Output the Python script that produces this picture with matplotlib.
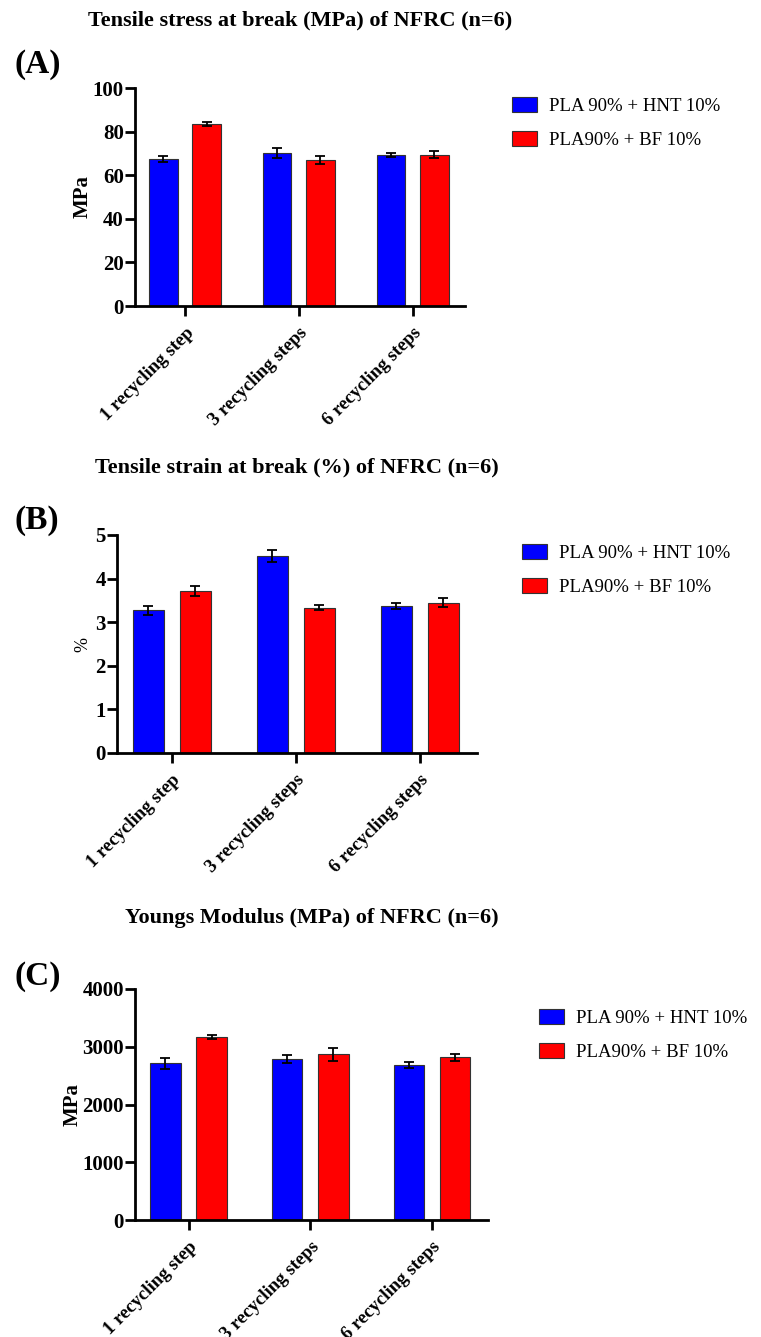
import matplotlib
matplotlib.use('Agg')
import matplotlib.pyplot as plt
import numpy as np

plt.rcParams.update({
    'font.family': ['Liberation Serif', 'DejaVu Serif'],
    'axes.spines.top': False,
    'axes.spines.right': False,
    'axes.linewidth': 2.0,
})

# ── Data ──────────────────────────────────────────────────────────────
groups = ['1 recycling step', '3 recycling steps', '6 recycling steps']
series = ['PLA 90% + HNT 10%', 'PLA90% + BF 10%']
colors = ['#0000FF', '#FF0000']

stress_hnt = [67.4, 70.1, 69.4]
stress_hnt_err = [1.2, 2.4, 1.0]
stress_bf = [83.6, 66.8, 69.4]
stress_bf_err = [1.0, 1.8, 1.5]

strain_hnt = [3.27, 4.52, 3.38]
strain_hnt_err = [0.11, 0.13, 0.07]
strain_bf = [3.71, 3.33, 3.45]
strain_bf_err = [0.12, 0.06, 0.10]

modulus_hnt = [2715, 2785, 2680]
modulus_hnt_err = [95, 75, 50]
modulus_bf = [3165, 2870, 2815]
modulus_bf_err = [30, 115, 65]

W, H = 761, 1337
fig = plt.figure(figsize=(W / 100, H / 100), dpi=100)


def px_axes(left, right, top, bottom):
    return fig.add_axes([left / W, 1 - bottom / H, (right - left) / W, (bottom - top) / H])


panels = [
    dict(box=(135, 465, 88, 306), title='Tensile stress at break (MPa) of NFRC (n=6)', title_y=20,
         tag='(A)', tag_y=65, ylabel='MPa', ylabel_bold=True, ylim=(0, 100), yticks=[0, 20, 40, 60, 80, 100],
         vals=(stress_hnt, stress_bf), errs=(stress_hnt_err, stress_bf_err), leg=(495, 110)),
    dict(box=(117, 477, 535, 753), title='Tensile strain at break (%) of NFRC (n=6)', title_y=467,
         tag='(B)', tag_y=520, ylabel='%', ylabel_bold=False, ylim=(0, 5), yticks=[0, 1, 2, 3, 4, 5],
         vals=(strain_hnt, strain_bf), errs=(strain_hnt_err, strain_bf_err), leg=(505, 557)),
    dict(box=(135, 488, 989, 1220), title='Youngs Modulus (MPa) of NFRC (n=6)', title_y=918,
         tag='(C)', tag_y=976, ylabel='MPa', ylabel_bold=True, ylim=(0, 4000), yticks=[0, 1000, 2000, 3000, 4000],
         vals=(modulus_hnt, modulus_bf), errs=(modulus_hnt_err, modulus_bf_err), leg=(522, 1022)),
]

x = np.arange(len(groups))
w = 0.25
off = 0.19

for p in panels:
    l, r, t, b = p['box']
    ax = px_axes(l, r, t, b)
    for i, (vals, errs) in enumerate(zip(p['vals'], p['errs'])):
        pos = x - off if i == 0 else x + off
        ax.bar(pos, vals, w, color=colors[i], edgecolor='#333333', linewidth=0.8,
               label=series[i], zorder=2)
        ax.errorbar(pos, vals, yerr=errs, fmt='none', ecolor='black', elinewidth=1.3,
                    capsize=3.5, capthick=1.3, zorder=3)
    ax.set_xlim(-0.44, 2.46)
    ax.set_ylim(*p['ylim'])
    ax.set_yticks(p['yticks'])
    ax.set_xticks(x)
    ax.set_xticklabels(groups, rotation=45, ha='right', rotation_mode='anchor',
                       fontsize=13.5, fontweight='bold')
    for lab in ax.get_yticklabels():
        lab.set_fontsize(15)
        lab.set_fontweight('bold')
    ax.tick_params(axis='both', width=2, length=7, direction='out', pad=1)
    ax.tick_params(axis='x', pad=6)
    if p['ylabel_bold']:
        ax.set_ylabel(p['ylabel'], fontsize=15, fontweight='bold', labelpad=0)
    else:
        ax.set_ylabel(p['ylabel'], fontsize=13, labelpad=3)

    cx = (l + r) / 2 / W
    fig.text(cx, 1 - p['title_y'] / H, p['title'], ha='center', va='center',
             fontsize=16, fontweight='bold')
    fig.text(14 / W, 1 - p['tag_y'] / H, p['tag'], ha='left', va='center',
             fontsize=24, fontweight='bold')

    lx, ly = p['leg']
    ax.legend(loc='upper left', bbox_to_anchor=(lx / W, 1 - (ly - 30) / H),
              bbox_transform=fig.transFigure, frameon=False, fontsize=13.5,
              handlelength=1.35, handleheight=0.85, handletextpad=0.65, labelspacing=0.85)

fig.savefig('out.png', dpi=100)
